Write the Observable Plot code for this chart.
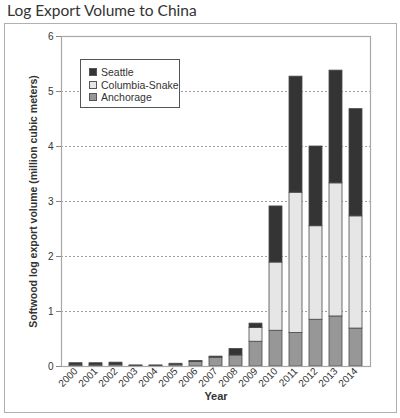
<!DOCTYPE html>
<html>
<head>
<meta charset="utf-8">
<script src="https://cdn.jsdelivr.net/npm/d3@7"></script>
<script src="https://cdn.jsdelivr.net/npm/@observablehq/plot@0.6"></script>
<style>
  body { margin: 0; background: white; font-family: "Liberation Sans", Arial, sans-serif; }
  #wrap { position: relative; width: 400px; height: 418px; }
  #title { position: absolute; left: 7px; top: 1px; font: 15.5px Lato, "Open Sans", sans-serif; color: #333; }
  #box { position: absolute; left: 4px; top: 23px; width: 391px; height: 388px; border: 1.5px solid #b0b0b0; pointer-events: none; }
  #chart { position: absolute; left: 0; top: 0; }
  #legend { position: absolute; left: 80px; top: 59px; width: 100px; height: 49px; border: 1px solid #555; background: white;
            font-size: 10.5px; color: #333; box-sizing: border-box; padding: 6px 0 0 8px; }
  .item { display: flex; align-items: center; height: 12.4px; }
  .sw { width: 8px; height: 8px; border: 1px solid #555; margin-right: 4px; box-sizing: border-box; }
</style>
</head>
<body>
<div id="wrap">
  <div id="title">Log Export Volume to China</div>
  <div id="box"></div>
  <div id="chart"></div>
  <div id="legend"></div>
</div>
<script>
const years = ["2000","2001","2002","2003","2004","2005","2006","2007","2008","2009","2010","2011","2012","2013","2014"];
const anchorage = [0.02, 0.02, 0.03, 0.01, 0.01, 0.03, 0.08, 0.16, 0.20, 0.45, 0.65, 0.61, 0.85, 0.91, 0.69];
const columbia  = [0, 0, 0, 0, 0, 0, 0, 0, 0, 0.25, 1.24, 2.55, 1.70, 2.42, 2.04];
const seattle   = [0.04, 0.04, 0.04, 0.01, 0.01, 0.02, 0.02, 0.02, 0.12, 0.08, 1.02, 2.11, 1.45, 2.05, 1.95];
const ports = ["Seattle", "Columbia-Snake", "Anchorage"];
const colors = ["#343434", "#e6e6e6", "#979797"];
const yTicks = [0, 1, 2, 3, 4, 5, 6];

const rows = [];
years.forEach((y, i) => {
  rows.push({year: y, port: "Anchorage", value: anchorage[i]});
  rows.push({year: y, port: "Columbia-Snake", value: columbia[i]});
  rows.push({year: y, port: "Seattle", value: seattle[i]});
});

const plot = Plot.plot({
  width: 400,
  height: 418,
  marginLeft: 61,
  marginRight: 30,
  marginTop: 36,
  marginBottom: 52,
  style: {background: "transparent", fontFamily: "Liberation Sans, Arial, sans-serif", color: "#333"},
  x: {domain: years, paddingInner: 0.33, paddingOuter: 0.15, label: null},
  y: {domain: [0, 6], label: null},
  color: {domain: ports, range: colors},
  marks: [
    Plot.gridY(yTicks.slice(1, -1), {stroke: "#888", strokeOpacity: 1, strokeDasharray: "2,2", strokeWidth: 0.8}),
    Plot.barY(rows, {
      x: "year", y: "value", fill: "port",
      order: ["Anchorage", "Columbia-Snake", "Seattle"],
      stroke: "#4a4a4a", strokeWidth: 0.8
    }),
    Plot.frame({stroke: "#a8a8a8", strokeWidth: 1.2}),
    Plot.axisY(yTicks, {tickSize: 5, tickPadding: 3, fontSize: 10, stroke: "#888", tickFormat: (d) => String(d), label: null}),
    Plot.axisX({tickSize: 0, tickPadding: 3, tickRotate: -45, fontSize: 10, label: null}),
    Plot.text(["Year"], {frameAnchor: "bottom", dy: 33, fontWeight: "bold", fontSize: 11, fill: "#333"}),
    Plot.text(["Softwood log export volume (million cubic meters)"], {
      frameAnchor: "left", textAnchor: "middle", rotate: -90, dx: -28, fontWeight: "bold", fontSize: 10.5, fill: "#333"
    })
  ]
});
document.querySelector("#chart").append(plot);

const legend = document.querySelector("#legend");
ports.forEach((p, i) => {
  const item = document.createElement("div");
  item.className = "item";
  const sw = document.createElement("div");
  sw.className = "sw";
  sw.style.background = colors[i];
  item.append(sw, document.createTextNode(p));
  legend.append(item);
});
</script>
</body>
</html>
